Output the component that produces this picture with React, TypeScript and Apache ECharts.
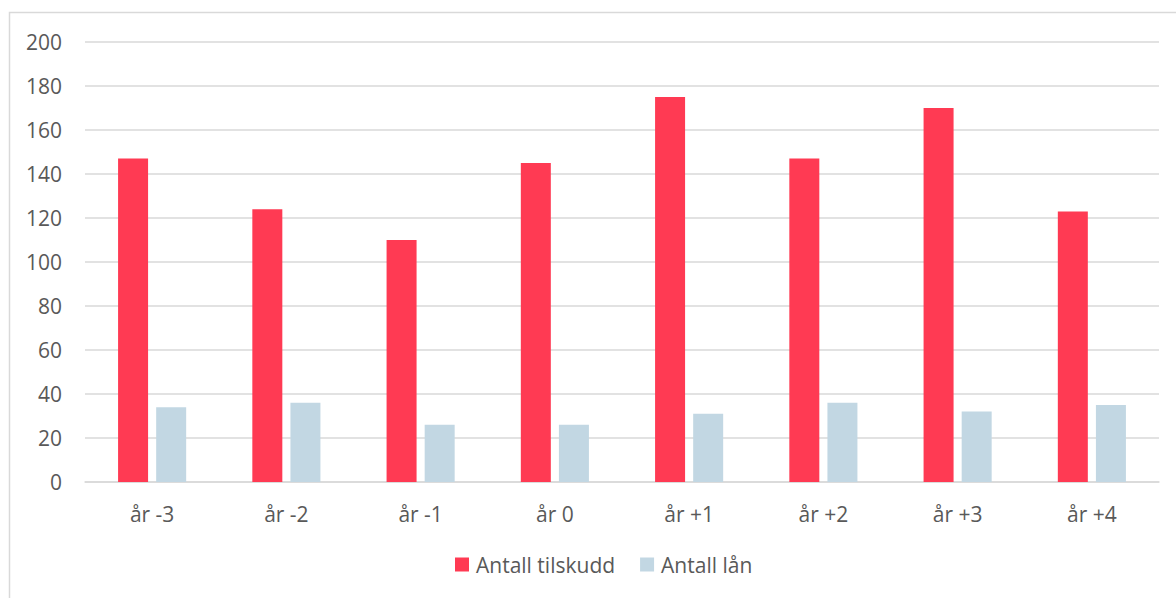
import React, { useEffect, useRef } from "react";
import * as echarts from "echarts";

const categories = ["år -3", "år -2", "år -1", "år 0", "år +1", "år +2", "år +3", "år +4"];
const tilskudd = [147, 124, 110, 145, 175, 147, 170, 123];
const laan = [34, 36, 26, 26, 31, 36, 32, 35];
const seriesNames = ["Antall tilskudd", "Antall lån"];

const FONT = "'Open Sans', 'Noto Sans', sans-serif";
const TXT = "#595959";
const FS = 21;

export default function App() {
  const ref = useRef<HTMLDivElement>(null);
  useEffect(() => {
    const chart = echarts.init(ref.current!, null, { renderer: "svg" });
    chart.setOption({
      animation: false,
      backgroundColor: "#ffffff",
      textStyle: { fontFamily: FONT },
      graphic: [
        {
          type: "rect",
          shape: { x: 9.5, y: 12.5, width: 1200, height: 700 },
          style: { fill: "none", stroke: "#D9D9D9", lineWidth: 1.5 },
          silent: true,
        },
      ],
      grid: { left: 85, right: 17, top: 42, bottom: 116, containLabel: false },
      legend: {
        bottom: 18,
        left: 450,
        padding: [5, 5, 5, 5],
        itemWidth: 14,
        itemHeight: 14,
        itemGap: 25,
        icon: "rect",
        textStyle: { color: TXT, fontSize: FS, fontFamily: FONT, padding: [0, 0, 0, 2] },
        data: seriesNames,
      },
      xAxis: {
        type: "category",
        data: categories,
        axisLine: { show: true, lineStyle: { color: "#D9D9D9", width: 1.5 } },
        axisTick: { show: false },
        axisLabel: { color: TXT, fontSize: FS, margin: 21, fontFamily: FONT },
      },
      yAxis: {
        type: "value",
        min: 0,
        max: 200,
        interval: 20,
        axisLine: { show: false },
        axisTick: { show: false },
        axisLabel: { color: TXT, fontSize: FS, margin: 23, fontFamily: FONT },
        splitLine: { lineStyle: { color: "#D9D9D9", width: 1.5 } },
      },
      series: [
        {
          name: seriesNames[0],
          type: "bar",
          data: tilskudd,
          barWidth: 30,
          barGap: "27%",
          itemStyle: { color: "#FF3A53" },
        },
        {
          name: seriesNames[1],
          type: "bar",
          data: laan,
          barWidth: 30,
          barGap: "27%",
          itemStyle: { color: "#C2D7E3" },
        },
      ],
    });
    return () => chart.dispose();
  }, []);
  return (
    <div
      ref={ref}
      style={{ position: "fixed", left: 0, top: 0, width: 1176, height: 598 }}
    />
  );
}
